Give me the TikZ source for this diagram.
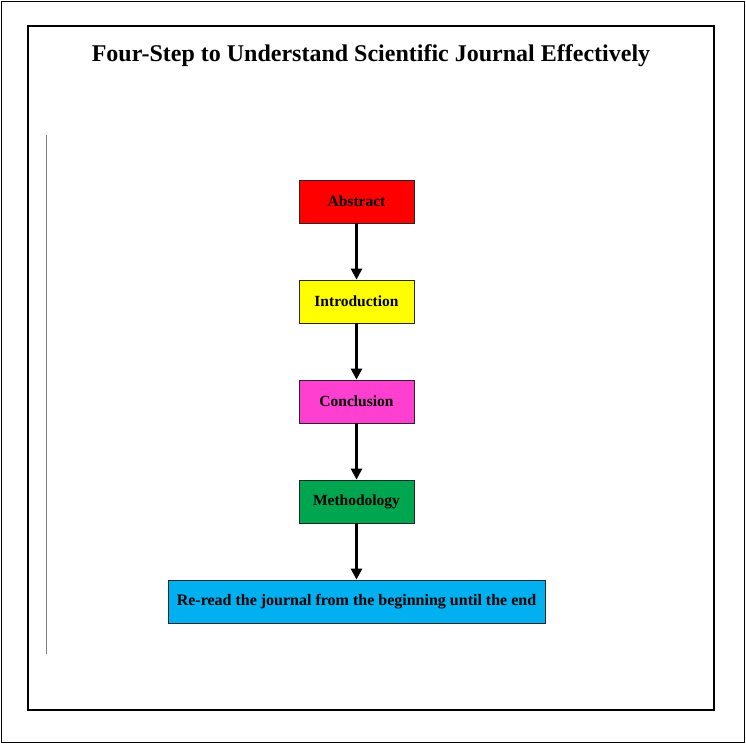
\documentclass[tikz,border=0pt]{standalone}
\usepackage{fontspec}
\setmainfont{Liberation Serif}
\usetikzlibrary{arrows.meta}
\definecolor{cred}{HTML}{FF0000}
\definecolor{cyel}{HTML}{FFFF00}
\definecolor{cmag}{HTML}{FF3FCF}
\definecolor{cgrn}{HTML}{00A550}
\definecolor{ccyn}{HTML}{00B0F0}
\begin{document}
\begin{tikzpicture}[x=1pt,y=-1pt,
  stepbox/.style={draw=black!85,line width=0.8pt,minimum height=43pt,inner sep=0pt,font=\fontsize{15.5}{18}\selectfont\bfseries},
  link/.style={line width=2.6pt,-{Triangle[length=11pt,width=11pt]}}]
\useasboundingbox (0,0) rectangle (746,744);
\draw[line width=1pt] (1.5,1.5) rectangle (744.5,742.5);
\draw[line width=1.6pt] (28,26) rectangle (714,710);
\draw[gray,line width=0.7pt] (46,135) -- (46,654);
\node[font=\fontsize{24}{28}\selectfont\bfseries] (title) at (371,56) {Four-Step to Understand Scientific Journal Effectively};
\node[stepbox,fill=cred,minimum width=115pt] (abs) at (356.5,201.5) {Abstract};
\node[stepbox,fill=cyel,minimum width=115pt] (intro) at (356.5,301.5) {Introduction};
\node[stepbox,fill=cmag,minimum width=115pt] (conc) at (356.5,401.5) {Conclusion};
\node[stepbox,fill=cgrn,minimum width=115pt] (meth) at (356.5,501.5) {Methodology};
\node[stepbox,fill=ccyn,minimum width=377pt,font=\fontsize{16}{18}\selectfont\bfseries] (reread) at (356.5,601.5) {Re-read the journal from the beginning until the end};
\draw[link] (abs) -- (intro);
\draw[link] (intro) -- (conc);
\draw[link] (conc) -- (meth);
\draw[link] (meth) -- (reread);
\end{tikzpicture}
\end{document}
